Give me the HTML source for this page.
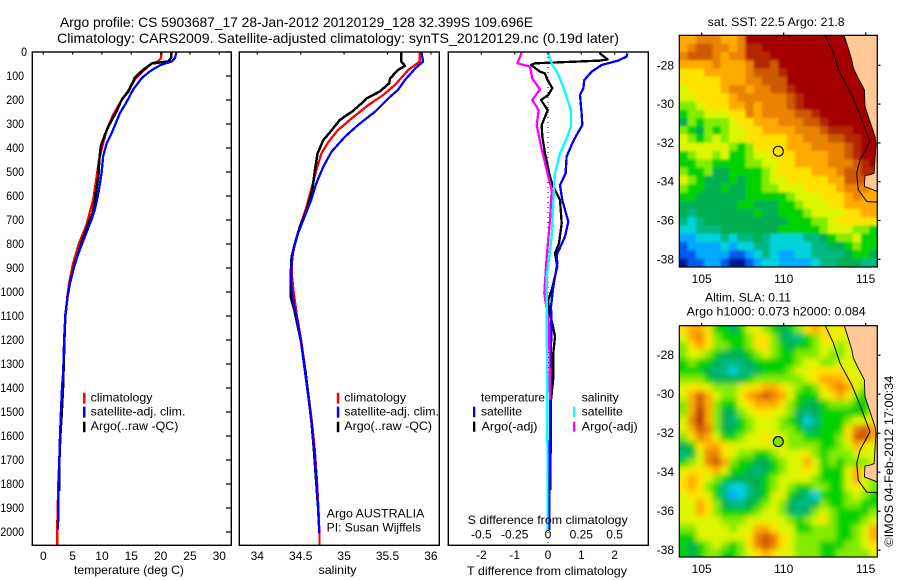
<!DOCTYPE html>
<html>
<head>
<meta charset="utf-8">
<title>Argo profile</title>
<style>
html,body{margin:0;padding:0;background:#fff;width:900px;height:580px;overflow:hidden}
svg{display:block;position:absolute;left:0;top:0}
text{font-family:"Liberation Sans",sans-serif;font-size:12px;fill:#000}
.t14{font-size:14px}
.num{font-size:12px}
</style>
</head>
<body>
<svg id="chart" width="900" height="580" viewBox="0 0 900 580" xmlns="http://www.w3.org/2000/svg">
  <defs>
    <clipPath id="clipTemp"><rect x="32.3" y="52" width="199" height="493.3"/></clipPath>
    <clipPath id="clipSal"><rect x="239.3" y="52" width="200" height="493.3"/></clipPath>
    <clipPath id="clipDiff"><rect x="448.3" y="52" width="200" height="493.3"/></clipPath>
    <clipPath id="clipMap1"><rect x="679.3" y="35.3" width="198" height="231.7"/></clipPath>
    <clipPath id="clipMap2"><rect x="679.3" y="325.7" width="198" height="231.3"/></clipPath>
    <filter id="softSst" x="-10%" y="-10%" width="120%" height="120%"><feGaussianBlur stdDeviation="1.3"/></filter>
    <filter id="softSla" x="-10%" y="-10%" width="120%" height="120%"><feGaussianBlur stdDeviation="3"/></filter>
  </defs>

  <text class="t14" x="60" y="27" textLength="473" lengthAdjust="spacingAndGlyphs">Argo profile: CS 5903687_17 28-Jan-2012 20120129_128 32.399S 109.696E</text>
  <text class="t14" x="57" y="43" textLength="562" lengthAdjust="spacingAndGlyphs">Climatology: CARS2009. Satellite-adjusted climatology: synTS_20120129.nc (0.19d later)</text>

  <g id="gTemp"></g>
  <g id="gSal"></g>
  <g id="gDiff"></g>
  <g id="gMap1"></g>
  <g id="gMap2"></g>

  <rect x="32.3" y="52" width="199" height="493.3" fill="none" stroke="#000" stroke-width="1.4"/>
  <rect x="239.3" y="52" width="200" height="493.3" fill="none" stroke="#000" stroke-width="1.4"/>
  <rect x="448.3" y="52" width="200" height="493.3" fill="none" stroke="#000" stroke-width="1.4"/>
  <rect x="679.3" y="35.3" width="198" height="231.7" fill="none" stroke="#000" stroke-width="1.2"/>
  <rect x="679.3" y="325.7" width="198" height="231.3" fill="none" stroke="#000" stroke-width="1.2"/>

  <text x="74" y="574" textLength="110" lengthAdjust="spacingAndGlyphs">temperature (deg C)</text>
  <text x="318.5" y="574" textLength="38" lengthAdjust="spacingAndGlyphs">salinity</text>
  <text x="467" y="575" textLength="160" lengthAdjust="spacingAndGlyphs">T difference from climatology</text>
  <text x="467.7" y="524" textLength="160" lengthAdjust="spacingAndGlyphs">S difference from climatology</text>

  <g>
    <rect x="83" y="392.7" width="2.5" height="11" fill="#f00"/>
    <rect x="83" y="406.7" width="2.5" height="11" fill="#00f"/>
    <rect x="83" y="421.7" width="2.5" height="10.5" fill="#000"/>
    <text x="90.7" y="401.7" textLength="61.7" lengthAdjust="spacingAndGlyphs">climatology</text>
    <text x="90.7" y="415.7" textLength="94.7" lengthAdjust="spacingAndGlyphs">satellite-adj. clim.</text>
    <text x="90.7" y="430" textLength="87.7" lengthAdjust="spacingAndGlyphs">Argo(..raw -QC)</text>
  </g>
  <g>
    <rect x="336.8" y="392.7" width="2.5" height="11" fill="#f00"/>
    <rect x="336.8" y="406.7" width="2.5" height="11" fill="#00f"/>
    <rect x="336.8" y="421.7" width="2.5" height="10.5" fill="#000"/>
    <text x="344.3" y="401.7" textLength="61.7" lengthAdjust="spacingAndGlyphs">climatology</text>
    <text x="344.3" y="415.7" textLength="94.7" lengthAdjust="spacingAndGlyphs">satellite-adj. clim.</text>
    <text x="344.3" y="430" textLength="87.7" lengthAdjust="spacingAndGlyphs">Argo(..raw -QC)</text>
    <text x="326.7" y="517.3" textLength="97.7" lengthAdjust="spacingAndGlyphs">Argo AUSTRALIA</text>
    <text x="326.7" y="531.7" textLength="94.3" lengthAdjust="spacingAndGlyphs">PI: Susan Wijffels</text>
  </g>
  <g>
    <text x="481" y="401.7" textLength="64" lengthAdjust="spacingAndGlyphs">temperature</text>
    <rect x="473" y="406.7" width="2.3" height="10.6" fill="#00f"/>
    <text x="481" y="415.7" textLength="41" lengthAdjust="spacingAndGlyphs">satellite</text>
    <rect x="473" y="421.7" width="2.3" height="10" fill="#000"/>
    <text x="481.5" y="430.7" textLength="56" lengthAdjust="spacingAndGlyphs">Argo(-adj)</text>
    <text x="581.7" y="401.7" textLength="37" lengthAdjust="spacingAndGlyphs">salinity</text>
    <rect x="573" y="406.7" width="2.3" height="10.6" fill="#0ff"/>
    <text x="581.7" y="415.7" textLength="41" lengthAdjust="spacingAndGlyphs">satellite</text>
    <rect x="573" y="421.7" width="2.3" height="10" fill="#f0f"/>
    <text x="581.7" y="430.7" textLength="56" lengthAdjust="spacingAndGlyphs">Argo(-adj)</text>
  </g>

  <text x="707.7" y="26" textLength="137" lengthAdjust="spacingAndGlyphs">sat. SST: 22.5 Argo: 21.8</text>
  <text x="705" y="301.7" textLength="86" lengthAdjust="spacingAndGlyphs">Altim. SLA: 0.11</text>
  <text x="686.7" y="315.7" textLength="179" lengthAdjust="spacingAndGlyphs">Argo h1000: 0.073 h2000: 0.084</text>
  <text transform="translate(893,546.7) rotate(-90)" x="0" y="0" textLength="171" lengthAdjust="spacingAndGlyphs">©IMOS 04-Feb-2012 17:00:34</text>
</svg>

<script>
// ---------- chart data ----------
const depthTicks = [0,100,200,300,400,500,600,700,800,900,1000,1100,1200,1300,1400,1500,1600,1700,1800,1900,2000];
const tempTicks = [0,5,10,15,20,25,30];
const salTicks = [34,34.5,35,35.5,36];
const dtTicks = [-2,-1,0,1,2];
const dsTicks = [-0.5,-0.25,0,0.25,0.5];
const lonTicks = [105,110,115];
const latTicks = [-28,-30,-32,-34,-36,-38];

const climTempDepth = [0,25,39,47,80,115,160,207,262,325,380,449,518,615,656,725,796,879,962,1018,1100,1200,1332,1400,1500,1600,1700,1800,1900,2000,2055];
const climTemp = [20.2,20.05,19.6,18.5,17,15.6,14.5,13.2,11.9,10.8,10.2,9.5,9.1,8.5,8.07,7.3,6.1,5.1,4.4,4.1,3.75,3.55,3.4,3.2,3.0,2.85,2.72,2.55,2.45,2.35,2.35];
const argoTempDepth = [0,25,39,48,74,108,164,199,247,310,344,393,449,518,615,670,713,796,879,962,1018,1100,1200,1332,1400,1500,1600,1700,1830];
const argoTemp = [21.76,21.76,21.3,18.5,17,15.6,14.5,13.35,12.5,11.1,10.5,9.8,9.55,9.4,8.8,8.4,7.7,6.5,5.4,4.55,4.15,3.75,3.6,3.45,3.35,3.15,2.9,2.75,2.72];
const satTempDepth = [0,25,39,55,80,108,157,213,254,338,380,435,504,588,656,699,768,838,907,977,1025,1100,1200,1332,1400,1500,1600,1700,1800,1900,1990];
const satTemp = [22.7,22.45,21.9,19.9,18.2,16.8,15.3,14.1,13.07,11.65,10.8,10.2,9.94,9.4,8.8,8.2,7.1,6,5.1,4.4,4.1,3.75,3.55,3.4,3.18,3.0,2.85,2.73,2.6,2.55,2.5];

const climSalDepth = [0,40,75,137,179,221,276,325,374,422,492,575,658,728,797,867,936,1005,1089,1200,1332,1436,1547,1658,1797,1908,2005,2055];
const climSal = [35.87,35.87,35.74,35.586,35.45,35.28,35.09,34.93,34.82,34.74,34.68,34.62,34.557,34.49,34.434,34.395,34.4,34.42,34.453,34.505,34.555,34.592,34.631,34.662,34.689,34.705,34.716,34.716];
const argoSalDepth = [0,40,58,75,110,130,165,193,214,249,283,325,367,422,492,575,658,728,797,853,936,1019,1075,1200,1332,1436,1547,1658,1797,1900];
const argoSal = [35.66,35.66,35.7,35.62,35.53,35.52,35.41,35.26,35.2,35.09,34.95,34.86,34.76,34.695,34.664,34.634,34.57,34.49,34.434,34.395,34.384,34.384,34.426,34.5,34.555,34.59,34.625,34.652,34.68,34.7];
const satSalDepth = [0,40,68,117,158,193,249,304,353,415,478,547,617,700,755,825,908,992,1061,1103,1200,1332,1436,1547,1658,1797,1908,2005];
const satSal = [35.89,35.91,35.82,35.7,35.62,35.51,35.355,35.16,35.01,34.856,34.76,34.68,34.62,34.53,34.47,34.415,34.388,34.395,34.426,34.453,34.5,34.55,34.587,34.626,34.657,34.684,34.7,34.714];

const diffTSatDepth = [6,19,36,54,82,117,151,179,256,304,346,387,436,506,554,617,707,769,846,881,978,1061,1100,1269,1463,1700,1991];
const diffTSat = [2.38,2.36,2.11,1.61,1.31,1.09,1.06,0.96,1.01,1.03,0.86,0.71,0.56,0.53,0.36,0.43,0.61,0.51,0.26,0.28,0.16,0.09,0.1,0.09,0.07,0.05,0.04];
const diffTArgoDepth = [0,6,31,36,40,47,54,82,89,110,151,179,200,242,304,353,422,519,561,617,714,797,839,894,992,1033,1082,1130,1186,1255,1359,1450,1630,1825];
const diffTArgo = [1.56,1.56,1.79,1.56,0.86,-0.39,-0.51,-0.24,-0.09,-0.04,0.13,0.01,-0.21,-0.01,-0.19,-0.17,-0.09,0.06,0.16,0.36,0.41,0.33,0.21,0.28,0.11,0.01,0.03,0.13,0.21,0.16,0.16,0.09,0.08,0.07];
const diffSArgoDepth = [0,6,47,61,110,156,200,242,304,387,464,575,700,853,1006,1137,1450];
const diffSArgo = [-0.2,-0.2,-0.23,-0.135,-0.118,-0.06,-0.118,-0.07,-0.085,-0.055,-0.022,0.028,0.015,-0.01,-0.028,0.008,0.015];
const diffSSatDepth = [0,6,47,96,158,242,311,360,422,506,631,769,936,1116,1450,1991];
const diffSSat = [0.0025,0.0025,0.028,0.078,0.122,0.172,0.172,0.14,0.09,0.052,0.04,0.028,-0.01,-0.01,-0.005,-0.003];

const coastLon = [113.68,113.84,114.15,114.25,114.55,114.92,114.96,115.26,115.57,115.63,115.51,115.26,114.96,114.92,115.71,115.71];
const coastLat = [-26.46,-26.87,-27.73,-28.15,-28.67,-29.27,-30.13,-30.9,-31.67,-32.01,-33.56,-33.64,-33.68,-34.24,-34.5,-26.46];
const isobathLon = [112.52,113.03,113.43,114.15,114.65,115.26,114.65,114.45,114.55,115.06,115.71];
const isobathLat = [-26.46,-27.38,-28.41,-29.53,-30.56,-31.93,-32.87,-33.56,-34.42,-35.02,-35.05];
const floatLon = 109.67;
const floatLat = -32.43;

const sstLevels = [
[10,10,11,11,11,10,10,11,14,14,14,14,14,14,14,14,14,14,14,14,14,14,14,14],
[10,11,12,12,11,11,10,11,13,13,14,14,14,14,14,14,14,14,14,14,14,14,14,14],
[11,12,12,12,11,10,11,11,13,13,13,14,14,14,14,14,14,14,14,14,14,14,14,14],
[10,10,10,10,11,10,10,10,11,13,13,12,14,14,14,14,14,14,14,14,14,14,14,14],
[9,9,9,10,10,10,10,10,11,12,12,12,13,14,14,14,14,14,14,14,14,14,14,14],
[9,9,9,9,9,10,10,10,11,11,12,12,12,14,14,14,14,14,14,14,14,14,14,14],
[8,9,9,9,9,10,11,11,10,11,11,12,12,13,14,14,14,14,14,14,14,14,14,14],
[8,8,9,9,9,9,10,11,11,11,11,11,11,12,13,14,14,14,14,14,14,14,14,14],
[7,7,8,9,9,9,10,10,11,10,11,11,11,12,13,14,14,14,14,14,14,14,14,14],
[6,7,7,8,8,8,9,9,11,10,11,11,11,11,12,12,13,14,14,14,14,14,14,14],
[5,7,6,7,7,7,8,9,9,10,10,10,11,11,11,12,12,13,14,14,14,14,14,14],
[7,6,5,7,6,7,8,8,9,9,10,10,10,10,11,11,11,12,13,13,13,14,14,14],
[8,7,6,7,8,7,8,8,9,9,9,9,9,10,10,11,11,11,12,12,13,13,14,14],
[8,8,8,8,8,8,7,6,7,9,9,9,9,10,10,10,11,11,11,11,12,13,14,14],
[6,7,8,8,7,8,6,6,7,8,8,9,9,9,10,10,10,10,11,11,12,13,14,14],
[6,6,7,7,6,6,6,6,7,7,8,8,9,9,10,10,10,10,11,11,11,12,13,14],
[7,6,6,7,5,5,6,6,6,6,7,8,9,9,9,9,10,10,10,11,12,12,13,13],
[8,7,6,5,5,5,6,5,6,6,7,8,8,9,9,9,9,9,10,10,12,12,12,12],
[7,6,6,5,5,6,5,5,6,6,7,7,8,8,8,9,9,9,9,10,11,11,11,10],
[6,6,5,5,5,5,5,5,6,6,6,6,6,7,8,8,8,9,9,9,10,11,10,10],
[5,5,5,5,5,5,5,6,6,5,5,5,6,6,7,8,8,8,9,9,10,10,10,10],
[5,4,5,5,5,5,5,5,5,6,5,5,6,6,6,7,8,8,8,8,9,9,10,10],
[4,3,4,5,5,5,5,5,5,5,5,5,5,6,6,6,7,7,8,9,9,9,9,9],
[3,3,4,4,4,5,5,5,5,5,5,5,6,6,6,6,6,7,8,8,8,7,7,6],
[2,2,3,3,3,4,3,4,4,5,4,3,3,3,3,4,4,5,6,7,7,8,6,6],
[1,2,2,2,2,3,2,3,3,4,4,3,3,3,3,3,4,4,5,5,6,7,6,6],
[1,1,2,2,2,2,1,1,2,3,4,3,2,2,3,3,4,4,4,4,5,6,6,5],
[0,1,1,2,2,1,0,0,1,2,3,3,2,2,2,2,3,4,4,5,5,5,4,4]
];

const slaLevels = [
[9,10,10,9,6,6,5,6,8,8,7,6,5,6,7,9,10,9,8,9,8,8,8,8],
[8,10,11,9,7,6,6,6,7,9,9,7,5,4,4,6,7,9,9,8,8,8,8,8],
[7,9,10,9,7,7,6,6,7,9,9,7,6,5,6,6,7,8,8,7,8,8,8,8],
[7,8,8,7,6,5,5,5,6,7,8,7,6,6,7,7,7,8,7,7,8,8,8,8],
[6,7,6,6,5,4,4,4,5,6,6,6,6,6,7,8,8,7,7,8,8,8,8,8],
[6,6,6,5,4,4,3,4,4,5,6,6,6,7,8,8,9,9,9,9,8,8,8,8],
[7,7,7,6,5,5,5,5,6,7,7,7,7,7,7,8,9,10,10,10,9,8,8,8],
[8,9,9,8,7,7,7,8,9,9,10,10,9,8,7,6,7,9,10,11,10,8,7,8],
[8,10,12,10,8,7,7,9,10,11,12,11,10,8,6,6,6,8,9,10,9,7,6,7],
[7,10,12,10,7,6,6,8,9,10,10,10,9,7,6,5,5,6,7,7,7,6,6,7],
[7,10,13,10,7,5,5,7,8,9,9,8,8,7,5,4,5,6,6,6,6,6,6,8],
[8,11,13,10,7,5,4,6,7,8,8,8,7,6,5,3,4,6,6,6,7,8,8,9],
[8,10,12,11,7,5,5,6,7,8,8,8,7,7,6,4,5,6,6,6,9,11,12,10],
[7,9,11,10,8,6,6,7,8,8,9,8,8,7,7,6,6,6,6,7,9,12,12,10],
[5,6,9,10,10,9,8,8,8,8,8,8,8,7,7,7,7,6,6,7,8,10,9,8],
[4,5,8,11,11,9,8,7,7,6,6,7,8,8,8,9,7,6,7,7,7,8,8,8],
[6,7,8,11,12,10,7,6,6,5,5,6,7,8,8,10,8,6,7,6,7,7,7,8],
[8,9,9,9,10,8,6,6,5,4,5,6,7,8,8,9,8,6,6,6,8,10,8,7],
[9,10,9,8,7,6,5,5,5,5,6,7,8,8,8,8,7,6,6,6,8,10,8,7],
[9,10,9,7,6,4,3,3,4,5,6,7,8,7,6,6,7,7,6,6,8,9,8,7],
[8,9,9,8,6,4,2,3,4,5,6,8,8,6,5,4,3,6,6,6,7,8,7,6],
[8,8,10,9,7,5,4,4,5,6,7,8,7,5,4,4,5,7,6,6,7,7,6,6],
[8,8,10,9,7,6,6,6,6,7,8,8,7,5,4,5,7,8,7,6,6,6,6,7],
[8,8,8,8,8,7,7,7,8,8,8,8,8,7,6,7,8,9,7,6,6,6,7,8],
[7,7,8,8,8,8,7,8,8,10,10,9,8,8,6,6,7,7,7,6,6,7,8,10],
[6,6,8,8,8,8,8,8,9,11,12,11,9,8,7,7,7,7,7,6,6,7,8,10],
[6,5,6,7,8,7,6,7,9,11,12,11,9,8,7,7,7,6,6,6,7,7,8,9],
[6,5,6,7,7,6,6,7,8,9,10,9,8,8,7,7,7,6,6,7,7,7,7,8]
];

const levelColors = ["#00149a","#005af0","#00aaff","#00d2dc","#00b982","#00af50","#00d200","#82eb00","#dcf500","#ffe100","#ffaa00","#eb8200","#cd5a00","#b42800","#a50000"];

// ---------- axis functions ----------
const SVGNS = "http://www.w3.org/2000/svg";
const yDepth = d => 52 + 0.24 * d;
const xTemp = t => 43.3 + 5.867 * t;
const xSal = s => 257.3 + 86.8 * (s - 34);
const xDT = v => 548 + 33.3 * v;
const xDS = s => 548 + 133.2 * s;
const xLon = lon => 701.7 + 16.4 * (lon - 105);
const yLat1 = lat => 65.3 + 19.4 * (-28 - lat);
const yLat2 = lat => 355.2 + 19.5 * (-28 - lat);
const LON0 = 103.64, LAT0 = -26.46, DLON = 0.503, DLAT = 0.4257;

function mk(tag, parent, name) {
  const el = document.createElementNS(SVGNS, tag);
  
  
  parent.appendChild(el);
  return el;
}
function label(parent, name, str, x, y, anchor, cls, width) {
  const el = mk('text', parent, name);
  el.setAttribute('x', x);
  el.setAttribute('y', y);
  el.setAttribute('text-anchor', anchor);
  if (cls) el.setAttribute('class', cls);
  if (width) { el.setAttribute('textLength', width); el.setAttribute('lengthAdjust', 'spacingAndGlyphs'); }
  el.textContent = str;
  return el;
}
function tick(parent, name, x1, y1, x2, y2) {
  const el = mk('line', parent, name);
  el.setAttribute('x1', x1); el.setAttribute('y1', y1);
  el.setAttribute('x2', x2); el.setAttribute('y2', y2);
  el.setAttribute('stroke', '#000');
  el.setAttribute('stroke-width', '1.2');
  return el;
}
function profile(parent, name, clip, xFn, values, depths, color, width) {
  const el = mk('polyline', parent, name);
  el.setAttribute('points', values.map((v, i) => xFn(v).toFixed(1) + ',' + yDepth(depths[i]).toFixed(1)).join(' '));
  el.setAttribute('fill', 'none');
  el.setAttribute('stroke', color);
  el.setAttribute('stroke-width', width);
  el.setAttribute('stroke-linejoin', 'round');
  el.setAttribute('shape-rendering', 'crispEdges');
  el.setAttribute('clip-path', 'url(#' + clip + ')');
  return el;
}

const gTemp = document.getElementById('gTemp');
const gSal = document.getElementById('gSal');
const gDiff = document.getElementById('gDiff');
const gMap1 = document.getElementById('gMap1');
const gMap2 = document.getElementById('gMap2');

// temperature panel
profile(gTemp, 'series-climatology-temperature', 'clipTemp', xTemp, climTemp, climTempDepth, '#f00', 2.3);
profile(gTemp, 'series-argo-temperature', 'clipTemp', xTemp, argoTemp, argoTempDepth, '#000', 2.5);
profile(gTemp, 'series-satellite-temperature', 'clipTemp', xTemp, satTemp, satTempDepth, '#00f', 2.3);
depthTicks.forEach(d => {
  label(gTemp, 'depth-tick-label', String(d), d === 0 ? 27 : 24, yDepth(d) + 4, 'end', 'num', String(d).length * 5.9);
  tick(gTemp, 'depth-tick', 231.3, yDepth(d), 226, yDepth(d));
});
tempTicks.forEach(t => {
  tick(gTemp, 'temperature-tick', xTemp(t), 52, xTemp(t), 54.5);
  label(gTemp, 'temperature-tick-label', String(t), xTemp(t), 560, 'middle', 'num');
});

// salinity panel
profile(gSal, 'series-climatology-salinity', 'clipSal', xSal, climSal, climSalDepth, '#f00', 2.3);
profile(gSal, 'series-argo-salinity', 'clipSal', xSal, argoSal, argoSalDepth, '#000', 2.5);
profile(gSal, 'series-satellite-salinity', 'clipSal', xSal, satSal, satSalDepth, '#00f', 2.3);
salTicks.forEach(s => {
  tick(gSal, 'salinity-tick', xSal(s), 52, xSal(s), 54.5);
  label(gSal, 'salinity-tick-label', String(s), xSal(s), 560, 'middle', 'num');
});

// difference panel
const zero = mk('line', gDiff, 'zero-difference-line');
zero.setAttribute('x1', xDT(0));
zero.setAttribute('x2', xDT(0));
zero.setAttribute('y1', yDepth(0));
zero.setAttribute('y2', yDepth(2050));
zero.setAttribute('stroke', '#000');
zero.setAttribute('stroke-width', '1');
zero.setAttribute('stroke-dasharray', '1 4');
profile(gDiff, 'series-t-argo-difference', 'clipDiff', xDT, diffTArgo, diffTArgoDepth, '#000', 2.3);
profile(gDiff, 'series-t-satellite-difference', 'clipDiff', xDT, diffTSat, diffTSatDepth, '#00f', 2.3);
profile(gDiff, 'series-s-argo-difference', 'clipDiff', xDS, diffSArgo, diffSArgoDepth, '#f0f', 2.3);
profile(gDiff, 'series-s-satellite-difference', 'clipDiff', xDS, diffSSat, diffSSatDepth, '#0ff', 2.3);
dtTicks.forEach(v => {
  tick(gDiff, 't-difference-tick', xDT(v), 52, xDT(v), 54.5);
  label(gDiff, 't-difference-tick-label', String(v), xDT(v), 559, 'middle', 'num');
});
dsTicks.forEach(s => {
  label(gDiff, 's-difference-tick-label', String(s), xDS(s), 538.7, 'middle', 'num');
});

// maps
function drawMap(parent, rows, yLat, clip, filter, cellName, lonY) {
  const clipGroup = mk('g', parent, 'map-field-clip');
  clipGroup.setAttribute('clip-path', 'url(#' + clip + ')');
  const field = mk('g', clipGroup, 'map-field');
  field.setAttribute('filter', 'url(#' + filter + ')');
  rows.forEach((row, r) => {
    row.forEach((level, c) => {
      const cell = mk('rect', field, cellName);
      let x0 = xLon(LON0 + c * DLON), x1 = xLon(LON0 + (c + 1) * DLON);
      let y0 = yLat(LAT0 - r * DLAT), y1 = yLat(LAT0 - (r + 1) * DLAT);
      if (c === 0) x0 -= 10;
      if (c === row.length - 1) x1 += 10;
      if (r === 0) y0 -= 10;
      if (r === rows.length - 1) y1 += 10;
      cell.setAttribute('x', x0.toFixed(2));
      cell.setAttribute('y', y0.toFixed(2));
      cell.setAttribute('width', (x1 - x0 + 0.3).toFixed(2));
      cell.setAttribute('height', (y1 - y0 + 0.3).toFixed(2));
      cell.setAttribute('fill', levelColors[Math.max(0, Math.min(levelColors.length - 1, Math.round(level)))]);
    });
  });
  const land = mk('polygon', parent, 'land');
  land.setAttribute('points', coastLon.map((v, i) => xLon(v).toFixed(1) + ',' + yLat(coastLat[i]).toFixed(1)).join(' '));
  land.setAttribute('fill', '#ffc896');
  land.setAttribute('stroke', '#000');
  land.setAttribute('stroke-width', '0.9');
  land.setAttribute('clip-path', 'url(#' + clip + ')');
  const iso = mk('polyline', parent, 'isobath');
  iso.setAttribute('points', isobathLon.map((v, i) => xLon(v).toFixed(1) + ',' + yLat(isobathLat[i]).toFixed(1)).join(' '));
  iso.setAttribute('fill', 'none');
  iso.setAttribute('stroke', '#000');
  iso.setAttribute('stroke-width', '1');
  iso.setAttribute('clip-path', 'url(#' + clip + ')');
  lonTicks.forEach(lon => {
    label(parent, 'longitude-tick-label', String(lon), xLon(lon), lonY, 'middle');
  });
  latTicks.forEach(lat => {
    label(parent, 'latitude-tick-label', String(lat), 674, yLat(lat) + 4, 'end');
  });
}
drawMap(gMap1, sstLevels, yLat1, 'clipMap1', 'softSst', 'sst-cell', 283);
drawMap(gMap2, slaLevels, yLat2, 'clipMap2', 'softSla', 'sla-cell', 573);
lonTicks.forEach(lon => {
  tick(gMap1, 'longitude-tick', xLon(lon), 35.3, xLon(lon), 32.5);
  tick(gMap2, 'longitude-tick', xLon(lon), 325.7, xLon(lon), 323);
});
latTicks.forEach(lat => {
  tick(gMap1, 'latitude-tick', 877.3, yLat1(lat), 880.5, yLat1(lat));
  tick(gMap2, 'latitude-tick', 877.3, yLat2(lat), 880.5, yLat2(lat));
});
const marker1 = mk('circle', gMap1, 'float-position-marker');
marker1.setAttribute('cx', xLon(floatLon));
marker1.setAttribute('cy', yLat1(floatLat));
marker1.setAttribute('r', 5);
marker1.setAttribute('fill', 'none');
marker1.setAttribute('stroke', '#000');
marker1.setAttribute('stroke-width', '1.1');
const marker2 = mk('circle', gMap2, 'float-position-marker');
marker2.setAttribute('cx', xLon(floatLon));
marker2.setAttribute('cy', yLat2(floatLat));
marker2.setAttribute('r', 5);
marker2.setAttribute('fill', '#7fdc00');
marker2.setAttribute('stroke', '#000');
marker2.setAttribute('stroke-width', '1.1');
</script>
</body>
</html>
